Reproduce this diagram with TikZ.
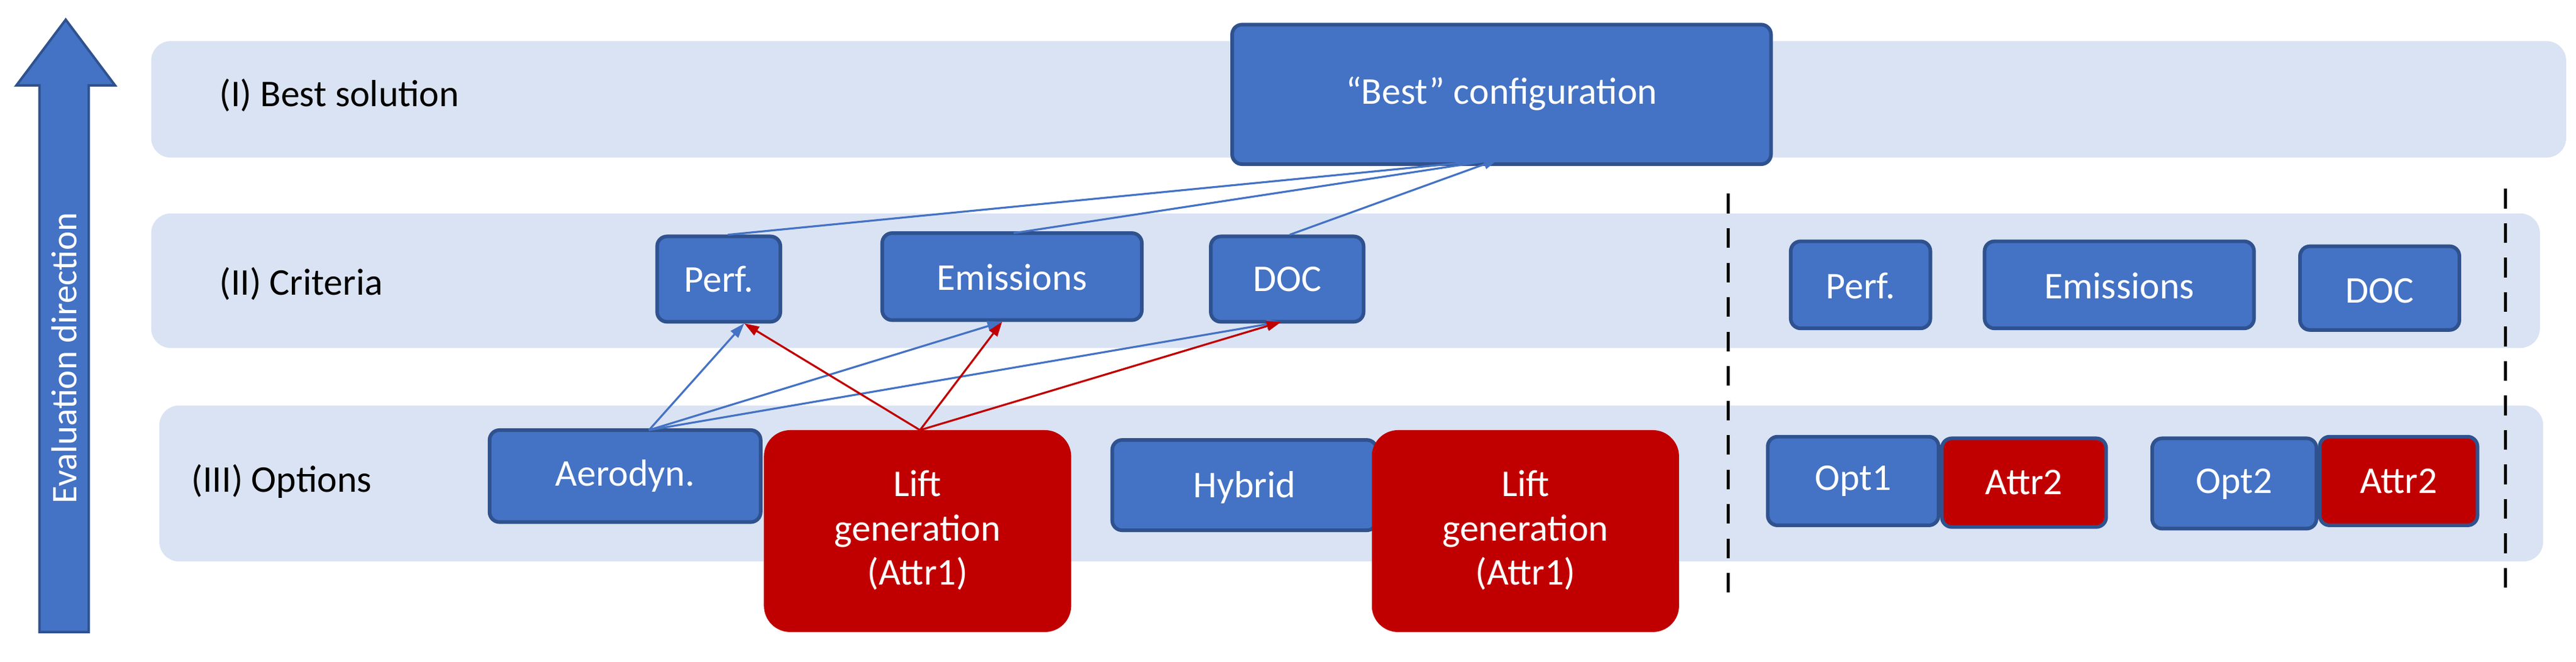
\documentclass[tikz,border=0pt]{standalone}
\usepackage{fontspec}
\setmainfont{Carlito}
\usetikzlibrary{arrows.meta,shapes.arrows}
\definecolor{band}{HTML}{DAE3F3}
\definecolor{bfill}{HTML}{4472C4}
\definecolor{bdraw}{HTML}{2F528F}
\definecolor{rfill}{HTML}{C00000}
\begin{document}
\begin{tikzpicture}[x=1pt,y=-1pt,
  band/.style={fill=band,rounded corners=12pt},
  bbox/.style={fill=bfill,draw=bdraw,line width=2.2pt,rounded corners=6pt,text=white,font=\fontsize{23}{26}\selectfont},
  rbox/.style={fill=rfill,rounded corners=16pt,text=white,font=\fontsize{23}{27}\selectfont,align=center},
  abox/.style={fill=rfill,draw=bdraw,line width=2.2pt,rounded corners=6pt,text=white,font=\fontsize{23}{26}\selectfont},
  lab/.style={font=\fontsize{23}{26}\selectfont,anchor=west},
  blu/.style={draw=bfill,line width=1.2pt},
  red/.style={draw=rfill,line width=1.2pt},
  tip/.style={-{Triangle[length=9pt,width=6pt]}},
  dsh/.style={line width=1.8pt,dash pattern=on 12pt off 9pt}]
\useasboundingbox (0,0) rectangle (1568,403);
% bands
\fill[band] (92,25) rectangle (1562,96);
\fill[band] (92,130) rectangle (1546,212);
\fill[band] (97,247) rectangle (1548,342);
% evaluation arrow
\draw[fill=bfill,draw=bdraw,line width=1.5pt] (24,385) -- (24,52) -- (10,52) -- (40,12) -- (70,52) -- (54,52) -- (54,385) -- cycle;
\node[rotate=90,text=white,font=\fontsize{22}{24}\selectfont] (ev) at (39,218) {Evaluation direction};
% labels
\node[lab] (l1) at (130,58) {(I) Best solution};
\node[lab] (l2) at (130,173) {(II) Criteria};
\node[lab] (l3) at (113,293) {(III) Options};
% boxes
\path[bbox] (750,15) rectangle (1078,100);
\node[font=\fontsize{23}{26}\selectfont,text=white] (best) at (914,57) {“Best” configuration};
\coordinate (bestin) at (912,97);
\path[bbox] (400,144) rectangle (475,196); \node[text=white,font=\fontsize{23}{26}\selectfont] (perf) at (437.5,170) {Perf.};
\path[bbox] (537,142) rectangle (695,195); \node[text=white,font=\fontsize{23}{26}\selectfont] (emi) at (616,169) {Emissions};
\path[bbox] (737,144) rectangle (830,196); \node[text=white,font=\fontsize{23}{26}\selectfont] (doc) at (783.5,170) {DOC};
\path[bbox] (298,262) rectangle (463,318); \node[text=white,font=\fontsize{23}{26}\selectfont] (aero) at (380.5,290) {Aerodyn.};
\path[bbox] (677,268) rectangle (838,323); \node[text=white,font=\fontsize{23}{26}\selectfont] (hyb) at (757.5,297) {Hybrid};
\path[rbox] (465,262) rectangle (652,385); \node[text=white,font=\fontsize{23}{27}\selectfont,align=center] (lift1) at (558.5,323) {Lift\\generation\\(Attr1)};
\path[rbox] (835,262) rectangle (1022,385); \node[text=white,font=\fontsize{23}{27}\selectfont,align=center] (lift2) at (928.5,323) {Lift\\generation\\(Attr1)};
% right group
\path[bbox] (1090,147) rectangle (1175,200); \node[text=white,font=\fontsize{23}{26}\selectfont] (perf2) at (1132.5,174) {Perf.};
\path[bbox] (1208,147) rectangle (1372,200); \node[text=white,font=\fontsize{23}{26}\selectfont] (emi2) at (1290,174) {Emissions};
\path[bbox] (1400,150) rectangle (1497,201); \node[text=white,font=\fontsize{23}{26}\selectfont] (doc2) at (1448.5,177) {DOC};
\path[bbox] (1076,266) rectangle (1180,320); \node[text=white,font=\fontsize{23}{26}\selectfont] (opt1) at (1128,293) {Opt1};
\path[abox] (1182,267) rectangle (1282,321); \node[text=white,font=\fontsize{23}{26}\selectfont] (at1) at (1232,294) {Attr2};
\path[bbox] (1310,267) rectangle (1410,322); \node[text=white,font=\fontsize{23}{26}\selectfont] (opt2) at (1360,295) {Opt2};
\path[abox] (1412,266) rectangle (1508,320); \node[text=white,font=\fontsize{23}{26}\selectfont] (at2) at (1460,293) {Attr2};
% dashed separators
\coordinate (d1a) at (1052,118); \coordinate (d1b) at (1052,365);
\coordinate (d2a) at (1525,115); \coordinate (d2b) at (1525,360);
\draw[dsh] (d1a) -- (d1b);
\draw[dsh] (d2a) -- (d2b);
% anchors
\coordinate (perfT) at (443,143); \coordinate (emiT) at (617,142); \coordinate (docT) at (785,143);
\coordinate (perfB) at (453,197); \coordinate (emiB) at (610,196); \coordinate (docB) at (780,196);
\coordinate (aeroT) at (395,262); \coordinate (liftT) at (560,262);
% connectors
\draw[blu] (perfT) -- (bestin);
\draw[blu] (emiT) -- (bestin);
\draw[blu,tip] (docT) -- (bestin);
\draw[blu,tip] (aeroT) -- (perfB);
\draw[blu,tip] (aeroT) -- (emiB);
\draw[blu,tip] (aeroT) -- (docB);
\draw[red,tip] (liftT) -- (perfB);
\draw[red,tip] (liftT) -- (emiB);
\draw[red,tip] (liftT) -- (docB);
\end{tikzpicture}
\end{document}
